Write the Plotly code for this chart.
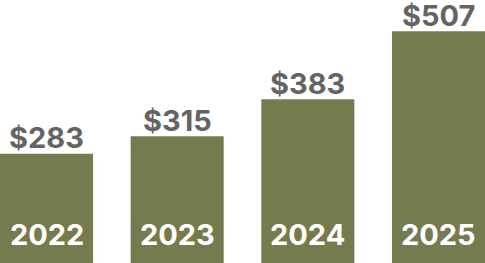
import plotly.graph_objects as go

years = ["2022", "2023", "2024", "2025"]
values = [283, 315, 383, 507]
value_labels = ["$283", "$315", "$383", "$507"]

BAR_COLOR = "#767B4F"
VALUE_COLOR = "#646464"
FONT = "Inter"
FSIZE = 29

y_base = 83.2
y_top = 564.4

fig = go.Figure(
    go.Bar(
        x=list(range(len(years))),
        y=values,
        marker=dict(color=BAR_COLOR, line=dict(width=0)),
        hoverinfo="skip",
    )
)

for i, (yr, v, lab) in enumerate(zip(years, values, value_labels)):
    fig.add_annotation(
        x=i, y=y_base, xref="x", yref="y",
        text=f"<b>{yr}</b>", showarrow=False,
        yanchor="middle", yshift=29,
        font=dict(family=FONT, size=FSIZE, color="white"),
    )
    fig.add_annotation(
        x=i, y=v, xref="x", yref="y",
        text=f"<b>{lab}</b>", showarrow=False,
        yanchor="middle", yshift=16,
        font=dict(family=FONT, size=FSIZE, color=VALUE_COLOR),
    )

fig.update_layout(
    width=485, height=263,
    margin=dict(l=0, r=0, t=0, b=0),
    paper_bgcolor="white", plot_bgcolor="white",
    bargap=0.288,
    showlegend=False,
    xaxis=dict(visible=False, range=[-0.356, 3.356], fixedrange=True),
    yaxis=dict(visible=False, range=[y_base, y_top], fixedrange=True),
)

fig.write_html("out.html")
